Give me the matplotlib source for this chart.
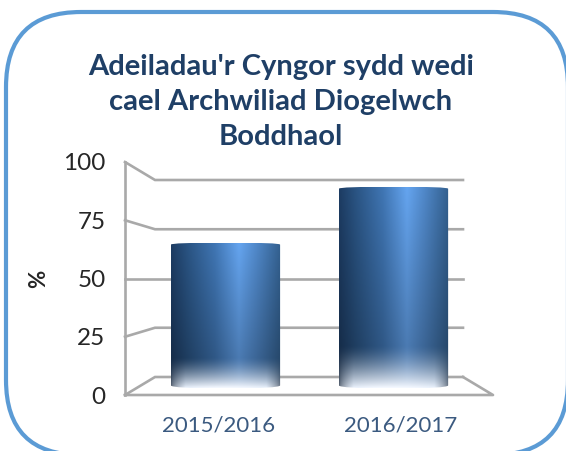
import numpy as np
import matplotlib
matplotlib.use('Agg')
from matplotlib import pyplot as plt
from matplotlib.patches import FancyBboxPatch, PathPatch
from matplotlib.path import Path
from matplotlib.colors import LinearSegmentedColormap

years = ['2015/2016', '2016/2017']
values = [65, 89]
y_ticks = [0, 25, 50, 75, 100]
title = "Adeiladau'r Cyngor sydd wedi\ncael Archwiliad Diogelwch\nBoddhaol"

W, H = 566, 451
NAVY = '#1f3f66'
GRID = '#a9a9a9'
BAR_W = 0.65
BAR_BASE = 3

plt.rcParams['font.family'] = ['Lato', 'DejaVu Sans']
fig = plt.figure(figsize=(W / 100, H / 100), dpi=100)

# rounded frame, runs off the bottom and right of the picture
bg = fig.add_axes([0, 0, 1, 1])
bg.set_xlim(0, W)
bg.set_ylim(H, 0)
bg.axis('off')
r = 75
bg.add_patch(FancyBboxPatch((6 + r, 12 + r), 562 - 2 * r, 443 - 2 * r,
                            boxstyle='round,pad=%d,rounding_size=%d' % (r, r),
                            fc='white', ec='#5b9bd5', lw=3))
bg.text(281, 102, title, ha='center', va='center', color=NAVY, fontsize=21,
        fontweight='bold', linespacing=1.45)

# front plane of the 3D box is the real axes
ax = fig.add_axes([125 / W, 1 - 395 / H, 368 / W, 233 / H])
ax.patch.set_alpha(0)
ax.set_xlim(-0.598, 1.592)
ax.set_ylim(0, 100)
for s in ax.spines.values():
    s.set_visible(False)

x0, x1 = ax.get_xlim()
depth = 30 / 368 * (x1 - x0)
back = 197 / 233


def back_y(v):
    return 50 + (v - 50) * back


# floor and walls
for v in y_ticks:
    ax.plot([x0, x0 + depth, x1 - depth], [v, back_y(v), back_y(v)], color=GRID,
            lw=1.9, zorder=1, clip_on=False, solid_joinstyle='miter')
ax.plot([x0, x1, x1 - depth], [0, 0, back_y(0)], color=GRID, lw=1.9, zorder=1, clip_on=False)
ax.plot([x0, x0], [0, 100], color=GRID, lw=1.9, zorder=1, clip_on=False)

# cylinder shading
stops = [(0, '#1d3c63'), (0.15, '#2a5483'), (0.4, '#4076b4'), (0.62, '#65a5f0'),
         (0.78, '#5088c9'), (1, '#33608f')]
cmap = LinearSegmentedColormap.from_list('cyl', stops)
fade = LinearSegmentedColormap.from_list('fade', [(0, '#4a5564'), (0.6, '#e8f0fb'), (1, '#f4f8ff')])

for i, v in enumerate(values):
    left, right = i - BAR_W / 2, i + BAR_W / 2
    u = np.linspace(0, 1, 220)
    t = np.linspace(0, 1, 200)[:, None]
    # darker toward the base, then fading to the pale reflection
    shade = (1 - 0.32 * t)[:, :, None]
    rgb = cmap(u)[None, :, :3] * shade
    bottom_rgb = fade(np.minimum(1, np.sin(u * np.pi) ** 0.6 * 0.95 + 0.05))[:, :3]
    mix = np.clip((t - 0.79) / 0.21, 0, 1)[:, :, None] ** 1.4
    img = rgb * (1 - mix) + bottom_rgb[None, :, :] * mix
    im = ax.imshow(img, extent=[left, right, BAR_BASE, v], aspect='auto', origin='upper',
                   zorder=3, interpolation='bilinear')
    # bar outline with curved top and base
    curve = 1.1
    verts = [(left, v - curve * 0.4), (left, BAR_BASE + curve), (left, BAR_BASE), (i, BAR_BASE - curve * 0.6),
             (right, BAR_BASE), (right, BAR_BASE + curve), (right, v - curve * 0.4),
             (right, v + curve * 0.3), (i, v + curve * 0.5), (left, v + curve * 0.3), (left, v - curve * 0.4)]
    codes = [Path.MOVETO, Path.LINETO, Path.CURVE3, Path.CURVE3, Path.CURVE3, Path.CURVE3,
             Path.LINETO, Path.CURVE3, Path.CURVE3, Path.CURVE3, Path.CURVE3]
    clip = PathPatch(Path(verts, codes), fc='none', ec='none', transform=ax.transData)
    ax.add_patch(clip)
    im.set_clip_path(clip)

ax.set_xlim(x0, x1)
ax.set_ylim(0, 100)
# labels sit a little wider apart than the bars in the original
ax.set_xticks([-0.042, 1.045], years)
ax.set_yticks(y_ticks)
ax.tick_params(length=0)
ax.tick_params(axis='x', labelsize=16, labelcolor='#3b5a80', pad=15)
ax.tick_params(axis='y', labelsize=17.5, labelcolor='#262626', pad=14)
ax.set_ylabel('%', fontsize=16, color='#262626', fontweight='bold', labelpad=10)

fig.savefig('out.png', dpi=100)
